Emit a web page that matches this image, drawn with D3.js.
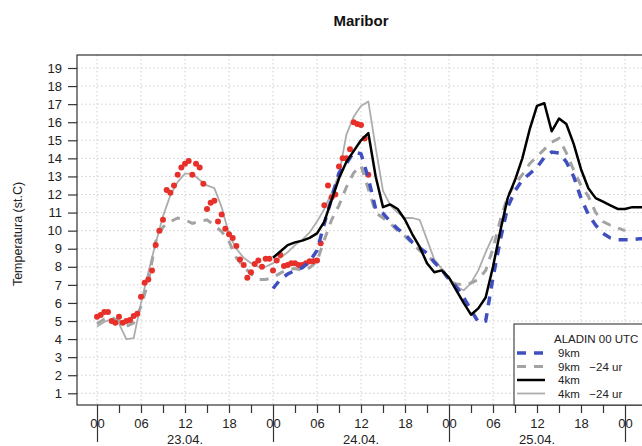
<!DOCTYPE html>
<html><head><meta charset="utf-8">
<script src="https://cdn.jsdelivr.net/npm/d3@7"></script>
<style>
body{margin:0;background:#fff;}
text{font-family:"Liberation Sans",Arial,Helvetica,sans-serif;}
</style></head>
<body><svg id="c" width="642" height="446"></svg>
<script>
// ---- data ----
const title = "Maribor";
const yTitle = "Temperatura (st.C)";
const hourLabels = ["00","06","12","18"];
const dateLabels = ["23.04.","24.04.","25.04."];
const legendTitle = "ALADIN 00 UTC";
const seriesNames = ["9km", "9km   \u221224 ur", "4km", "4km   \u221224 ur"];

// observations: half-hourly from 00 UTC 23.04.
const obsStart = 0, obsStep = 0.5;
const obs = [5.24,5.33,5.5,5.5,5.0,4.9,5.24,4.9,5.0,5.05,5.28,5.4,6.34,7.12,7.3,7.8,9.2,10.0,10.6,12.25,
  12.1,12.5,13.1,13.5,13.7,13.85,13.1,13.7,13.5,12.6,11.2,11.55,11.65,10.5,10.9,10.1,9.8,9.6,9.15,8.4,
  8.1,7.4,7.7,8.15,8.35,8.0,8.45,8.45,7.8,8.35,8.65,8.05,8.1,8.2,8.2,8.1,8.1,8.2,8.3,8.3,
  8.35,9.3,11.4,12.5,11.85,12.0,13.55,14.0,14.0,14.5,16.0,15.9,15.85,15.1,13.1];

// ALADIN 9km (hourly from hour 24)
const blueStart = 24;
const blue9km = [6.8,7.3,7.6,7.8,7.95,8.3,8.9,10.4,11.8,13.2,13.7,14.35,14.25,12.9,11.2,10.95,10.5,10.1,9.8,9.35,
  9.05,8.75,8.25,7.85,7.3,6.9,6.3,5.6,4.95,5.0,7.4,9.5,11.3,12.2,12.8,13.15,13.5,14.05,14.35,14.3,
  13.8,13.0,11.8,10.9,10.3,9.85,9.6,9.5,9.5,9.5,9.55,9.55];
// ALADIN 9km -24 h (hourly from hour 0)
const gdStart = 0;
const gray9km = [4.85,5.1,5.2,5.0,4.7,4.9,5.8,7.2,9.4,10.2,10.5,10.7,10.6,10.4,10.5,10.6,10.3,9.95,9.4,8.5,
  8.0,7.6,7.3,7.3,7.4,7.65,7.85,7.9,7.8,7.95,8.3,9.5,10.6,11.4,12.4,13.2,13.6,12.3,11.0,10.7,
  10.4,10.0,9.7,9.3,8.9,8.6,8.3,7.9,7.2,7.05,7.0,7.1,7.3,7.8,9.0,10.6,11.9,12.6,13.1,13.7,
  14.1,14.5,14.9,15.1,14.3,13.35,12.5,11.9,11.0,10.5,10.3,10.15,10.0];
// ALADIN 4km (hourly from hour 24)
const blackStart = 24;
const black4km = [8.5,8.85,9.2,9.35,9.45,9.6,9.85,10.5,11.7,12.9,13.8,14.4,15.0,15.4,13.0,11.3,11.45,11.2,10.6,9.8,
  9.1,8.2,7.7,7.8,7.4,6.7,6.0,5.35,5.7,6.3,8.0,10.0,11.8,12.8,14.0,15.6,16.9,17.05,15.5,16.2,
  15.9,14.8,13.4,12.35,11.8,11.6,11.4,11.2,11.2,11.3,11.3,11.3];
// ALADIN 4km -24 h (hourly from hour 0)
const gsStart = 0;
const gray4km = [4.7,4.95,5.1,4.85,4.0,4.05,6.0,7.7,9.3,10.8,11.95,12.7,13.15,13.15,12.8,12.5,12.35,11.3,9.8,9.0,
  8.5,8.2,8.0,8.0,8.2,8.5,8.8,9.2,9.5,9.9,10.5,11.2,12.1,13.1,15.3,16.3,16.9,17.15,14.6,12.2,
  11.4,11.0,10.7,10.7,10.6,9.5,8.4,7.9,7.4,6.9,6.7,7.1,7.8,8.8,9.7];

// ---- chart ----
const svg = d3.select("#c");
const L = 77, T = 55, B = 405, R = 760;
const x = d3.scaleLinear().domain([0, 72]).range([97, 625]);
const y = d3.scaleLinear().domain([1, 19]).range([393.3, 68]);

const toPts = (arr, start, step) => arr.map((v, i) => ({h: start + i * step, v}));

svg.append("defs").append("clipPath").attr("id","clip")
  .append("rect").attr("x", L).attr("y", T).attr("width", R - L).attr("height", B - T);

const g = svg.append("g");
// grid
const grid = g.append("g").attr("clip-path","url(#clip)");
grid.selectAll("line.h").data(d3.range(1, 20)).join("line")
  .attr("x1", L).attr("x2", R).attr("y1", d => y(d)).attr("y2", d => y(d))
  .attr("stroke", "#cfcfcf").attr("stroke-width", 1).attr("stroke-dasharray", "1.5,2.5");
grid.selectAll("line.v").data(d3.range(0, 97, 6)).join("line")
  .attr("y1", T).attr("y2", B).attr("x1", d => x(d)).attr("x2", d => x(d))
  .attr("stroke", "#cfcfcf").attr("stroke-width", 1).attr("stroke-dasharray", "1.5,2.5");

// lines
const line = d3.line().x(d => x(d.h)).y(d => y(d.v));
const plot = g.append("g").attr("clip-path","url(#clip)");
plot.append("path").datum(toPts(gray4km, gsStart, 1)).attr("d", line)
  .attr("fill","none").attr("stroke","#adadad").attr("stroke-width",1.8).attr("stroke-linejoin","round");
plot.append("path").datum(toPts(gray9km, gdStart, 1)).attr("d", line)
  .attr("fill","none").attr("stroke","#a3a3a3").attr("stroke-width",3).attr("stroke-dasharray","9,8");
plot.selectAll("circle").data(toPts(obs, obsStart, obsStep)).join("circle")
  .attr("cx", d => x(d.h)).attr("cy", d => y(d.v)).attr("r", 3).attr("fill", "#e8302a");
plot.append("path").datum(toPts(blue9km, blueStart, 1)).attr("d", line)
  .attr("fill","none").attr("stroke","#3f4fc0").attr("stroke-width",3.5).attr("stroke-dasharray","9,8");
plot.append("path").datum(toPts(black4km, blackStart, 1)).attr("d", line)
  .attr("fill","none").attr("stroke","#000").attr("stroke-width",2.5).attr("stroke-linejoin","round");

// frame
g.append("rect").attr("x", L).attr("y", T).attr("width", R - L).attr("height", B - T)
  .attr("fill","none").attr("stroke","#333").attr("stroke-width",1.2);

// y axis
const ya = g.append("g").attr("transform", `translate(${L},0)`)
  .call(d3.axisLeft(y).tickValues(d3.range(1, 20)).tickSize(9).tickPadding(6).tickFormat(d3.format("d")));
ya.select(".domain").remove();
ya.selectAll("line").attr("stroke","#333").attr("stroke-width",1.2);
ya.selectAll("text").attr("font-size", 13).attr("fill","#222");

// x axis
const xa = g.append("g").attr("transform", `translate(0,${B})`)
  .call(d3.axisBottom(x).tickValues(d3.range(0, 76, 3)).tickSize(8).tickPadding(6)
    .tickFormat(h => h % 6 === 0 ? hourLabels[(h % 24) / 6] : ""));
xa.select(".domain").remove();
xa.selectAll("line").attr("stroke","#333").attr("stroke-width",1.2)
  .attr("y2", h => h % 24 === 0 ? 37 : 8);
xa.selectAll("text").attr("font-size", 13).attr("fill","#222");
g.selectAll("text.date").data(dateLabels).join("text").attr("class","date")
  .attr("x", (d, i) => x(12 + 24 * i)).attr("y", 444).attr("text-anchor","middle")
  .attr("font-size", 13).attr("fill","#222").text(d => d);

// titles
svg.append("text").attr("x", 361).attr("y", 26).attr("text-anchor","middle")
  .attr("font-size", 15).attr("font-weight","bold").attr("fill","#111").text(title);
svg.append("text").attr("transform","translate(22,234) rotate(-90)").attr("text-anchor","middle")
  .attr("font-size", 12.5).attr("fill","#222").text(yTitle);

// legend
const lg = svg.append("g");
lg.append("rect").attr("x", 514).attr("y", 324).attr("width", 200).attr("height", B - 324)
  .attr("fill","#fff").attr("stroke","#222").attr("stroke-width",1);
lg.append("text").attr("x", 554).attr("y", 343).attr("font-size", 11.5).attr("fill","#222").text(legendTitle);
const styles = [
  {c:"#3f4fc0", w:3.5, d:"9,8"},
  {c:"#a3a3a3", w:3, d:"9,8"},
  {c:"#000", w:2.5, d:null},
  {c:"#adadad", w:1.8, d:null}];
const ly = d3.scaleLinear().domain([0, 3]).range([353, 393.5]);
seriesNames.forEach((n, i) => {
  lg.append("line").attr("x1", 517).attr("x2", 545).attr("y1", ly(i)).attr("y2", ly(i))
    .attr("stroke", styles[i].c).attr("stroke-width", styles[i].w).attr("stroke-dasharray", styles[i].d);
  lg.append("text").attr("x", 558).attr("y", ly(i) + 4).attr("font-size", 11.5).attr("fill","#222")
    .attr("xml:space","preserve").style("white-space","pre").text(n);
});
</script></body></html>
